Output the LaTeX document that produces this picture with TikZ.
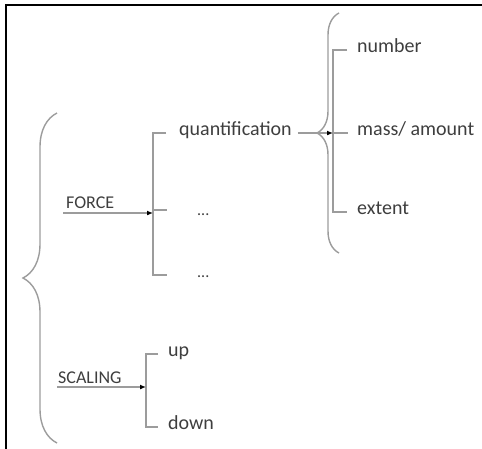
\documentclass[tikz,border=0pt]{standalone}
\usepackage{fontspec}
\setmainfont{Carlito}
\usetikzlibrary{arrows.meta,decorations.pathreplacing}
\definecolor{linegray}{HTML}{9C9C9C}
\definecolor{txtgray}{HTML}{3E3E3E}

\begin{document}
\begin{tikzpicture}[x=1pt,y=-1pt,
  line/.style={draw=linegray,line width=1.4pt},
  conn/.style={line,-{Latex[length=6pt,width=5pt,color=black]}},
  item/.style={text=txtgray,inner sep=0pt,anchor=mid west,font=\fontsize{20}{24}\selectfont},
  head/.style={text=txtgray,inner sep=0pt,anchor=base west,font=\fontsize{18}{22}\selectfont},
  dots/.style={text=txtgray,inner sep=0pt,anchor=base west,font=\fontsize{16}{20}\selectfont},
  brc/.style={line,decorate,decoration={brace,amplitude=#1}}]
\useasboundingbox (0,0) rectangle (482,448);
\draw [black,line width=2pt] (6,470) -- (6,5) -- (500,5);
% labels
\node [head] (force) at (66,208) {FORCE};
\node [head] (scaling) at (58,383) {SCALING};
\node [item] (quant) at (179,133) {quantification};
\node [dots] (dotsa) at (197,215) {...};
\node [dots] (dotsb) at (197,277) {...};
\node [item] (number) at (357,50) {number};
\node [item] (mass) at (357,133) {mass/ amount};
\node [item] (extent) at (357,212) {extent};
\node [item] (up) at (168,354) {up};
\node [item] (down) at (168,427) {down};
% joints
\coordinate (fstart) at (63,213);
\coordinate (fjoin) at (153,213);
\coordinate (sstart) at (57,387);
\coordinate (sjoin) at (146,387);
\coordinate (qjoin) at (333,133);
% braces
\draw [brc=34] (57,443) -- (57,113);
\draw [brc=22] (339,253) -- (339,13);
% brackets
\draw [line] ([xshift=-13pt]quant.mid west) -| (fjoin |- dotsb.north) -- ++(14,0) coordinate (fbot);
\draw [line] (fjoin |- 0,210) -- ++(14,0);
\draw [line] ([xshift=-10pt]number.mid west) -| (qjoin |- extent.mid west) -- ([xshift=-10pt]extent.mid west);
\draw [line] (qjoin) -- ([xshift=-9pt]mass.mid west);
\draw [line] ([xshift=-10pt]up.mid west) -| (sjoin) |- ([xshift=-10pt]down.mid west);
% arrows
\draw [conn] (fstart) -- (fjoin);
\draw [conn] (sstart) -- (sjoin);
\draw [conn] ([xshift=6pt]quant.mid east) -- (qjoin);
\end{tikzpicture}
\end{document}
